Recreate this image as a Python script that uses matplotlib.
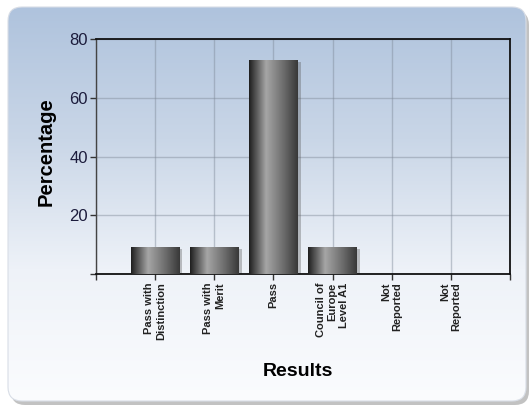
import numpy as np
import matplotlib.pyplot as plt
from matplotlib.patches import FancyBboxPatch, Rectangle
from matplotlib.colors import LinearSegmentedColormap
import matplotlib.transforms as mtransforms

# datos del grafico
resultados = ["Pass with\nDistinction", "Pass with\nMerit", "Pass",
              "Council of\nEurope\nLevel A1", "Not\nReported", "Not\nReported"]
porcentajes = [9.09, 9.09, 72.73, 9.09, 0, 0]
yticks = [0, 20, 40, 60, 80]

plt.rcParams['font.family'] = ['Liberation Sans', 'DejaVu Sans']

fig = plt.figure(figsize=(5.32, 4.12), dpi=100)
fig.patch.set_facecolor('white')

# panel de fondo con degradado y sombra
bg = fig.add_axes([0, 0, 1, 1], zorder=0)
bg.set_xlim(0, 532)
bg.set_ylim(412, 0)
bg.axis('off')
sombra = FancyBboxPatch((11, 11), 518, 394, boxstyle="round,pad=0,rounding_size=14",
                        facecolor='#9a9a9a', edgecolor='none', alpha=0.6, zorder=0)
bg.add_patch(sombra)
fondo = FancyBboxPatch((8, 7), 518, 394, boxstyle="round,pad=0,rounding_size=14",
                       facecolor='white', edgecolor='none', zorder=1)
bg.add_patch(fondo)
panel = FancyBboxPatch((8, 7), 518, 394, boxstyle="round,pad=0,rounding_size=14",
                       facecolor='none', edgecolor='#d8dde6', linewidth=0.8, zorder=3)
bg.add_patch(panel)
cmap_bg = LinearSegmentedColormap.from_list('bg', ['#afc3dd', '#c9d6e7', '#eef2f8', '#fbfcfe'])
grad = np.linspace(0, 1, 256).reshape(-1, 1)
im = bg.imshow(grad, cmap=cmap_bg, aspect='auto', extent=[8, 526, 401, 7], origin='upper',
               zorder=2)
im.set_clip_path(fondo)

# grafico de barras
ax = fig.add_axes([0.1805, 0.335, 0.778, 0.570], zorder=1)
ax.set_facecolor('none')
x = np.arange(1, len(resultados) + 1)
barras = ax.bar(x, porcentajes, width=0.82, color='none', edgecolor='none', zorder=3)

cmap_bar = LinearSegmentedColormap.from_list(
    'cil', [(0, '#1e1e1e'), (0.35, '#a6a6a6'), (0.72, '#6a6a6a'), (1, '#383838')])
grad_h = np.linspace(0, 1, 256).reshape(1, -1)
offset = mtransforms.ScaledTranslation(3 / 100, -2 / 100, fig.dpi_scale_trans)
for b in barras:
    if b.get_height() <= 0:
        continue
    x0, w, h = b.get_x(), b.get_width(), b.get_height()
    s = Rectangle((x0, 0), w, h, facecolor='#555555', alpha=0.35, edgecolor='none',
                  transform=ax.transData + offset, zorder=2)
    ax.add_patch(s)
    img = ax.imshow(grad_h, cmap=cmap_bar, aspect='auto', extent=[x0, x0 + w, 0, h], zorder=3)
    img.set_clip_path(b)

ax.set_xlim(0, 7)
ax.set_ylim(0, 80)
ax.set_xticks(range(0, 8))
ax.set_xticklabels([''] + resultados + [''], rotation=90, fontsize=8, fontweight='bold',
                   multialignment='right', color='#222222')
ax.set_yticks(yticks)
ax.set_yticklabels([''] + [str(v) for v in yticks[1:]], fontsize=12, color='#1c1c3c',
                   family=['Liberation Sans Narrow', 'Liberation Sans'])
ax.tick_params(axis='both', direction='out', length=4, width=1, color='#333333', pad=2)
ax.grid(True, color='#7f8a99', alpha=0.45, linewidth=1)
ax.set_axisbelow(True)
for lado in ['top', 'right', 'bottom']:
    ax.spines[lado].set_color('#111111')
    ax.spines[lado].set_linewidth(1.3)
ax.spines['left'].set_color('#444444')
ax.spines['left'].set_linewidth(1)

fig.text(46 / 532, 1 - 152 / 412, 'Percentage', rotation=90, fontsize=14.5, fontweight='bold',
         ha='center', va='center')
fig.text(298 / 532, 1 - 372 / 412, 'Results', fontsize=14, fontweight='bold',
         ha='center', va='center')

plt.savefig('out.png', dpi=100)
